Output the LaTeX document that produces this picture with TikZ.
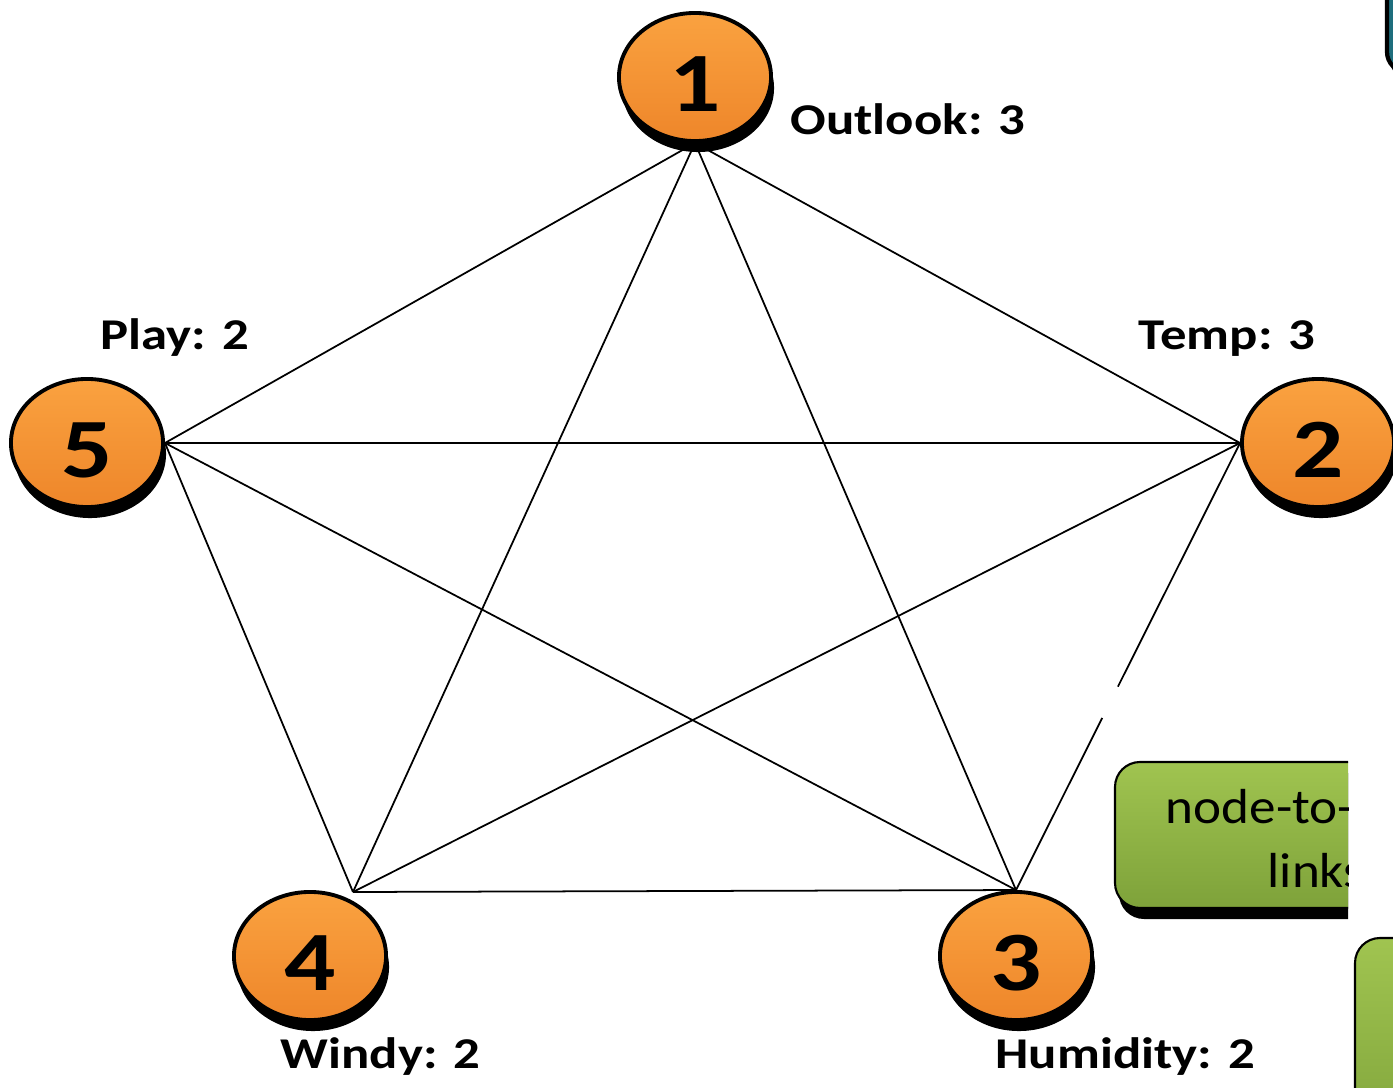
\documentclass[tikz,border=0pt]{standalone}
\usepackage{fontspec}
\setmainfont{Carlito}[FakeStretch=1.2]
\newfontfamily\boxfont{Carlito}[FakeStretch=1.08]
\usetikzlibrary{shapes.geometric,shadows,backgrounds,calc}

\definecolor{ballTop}{RGB}{250,162,64}
\definecolor{ballBot}{RGB}{238,134,42}
\definecolor{boxTop}{RGB}{160,196,80}
\definecolor{boxBot}{RGB}{126,162,58}
\definecolor{tealBox}{RGB}{30,110,125}

\tikzset{
    ball/.style={ellipse, minimum width=1.52cm, minimum height=1.28cm, inner sep=0pt,
        draw=black, line width=1.1pt, top color=ballTop, bottom color=ballBot,
        drop shadow={shadow xshift=0.3mm, shadow yshift=-1.1mm, fill=black, opacity=1},
        text height=0.68cm, text depth=0pt,
        font=\bfseries\fontsize{24}{28}\selectfont},
    attr/.style={anchor=base west, inner sep=0pt, font=\bfseries\fontsize{12.5}{15}\selectfont},
    link/.style={black, line width=0.5pt},
    greenbox/.style={rounded corners=0.25cm, draw=black, line width=0.6pt,
        top color=boxTop, bottom color=boxBot,
        drop shadow={shadow xshift=0.4mm, shadow yshift=-1.1mm, fill=black, opacity=1}},
    boxtext/.style={anchor=base west, inner sep=0pt, font=\boxfont\fontsize{14}{17}\selectfont}
}

\begin{document}
\begin{tikzpicture}[x=0.01cm, y=-0.01cm]
    % the frame
    \useasboundingbox (0,0) rectangle (1393,1088);
    \clip (0,0) rectangle (1393,1088);

    % the attributes
    \node[ball] (n1) at (695,77) {1};
    \node[ball] (n2) at (1318,443) {2};
    \node[ball] (n3) at (1016,956) {3};
    \node[ball] (n4) at (310,956) {4};
    \node[ball] (n5) at (87,443) {5};

    \node[attr] (l1) at (790,135) {Outlook: 3};
    \node[attr] (l2) at (1138,350) {Temp: 3};
    \node[attr] (l3) at (995,1068) {Humidity: 2};
    \node[attr] (l4) at (280,1068) {Windy: 2};
    \node[attr] (l5) at (100,350) {Play: 2};

    % link ends
    \coordinate (p1) at (n1.south);
    \coordinate (p2) at (n2.west);
    \coordinate (p3) at (n3.north);
    \coordinate (p4) at ($(n4.center)+(43,-64)$);
    \coordinate (p5) at (n5.east);
    \coordinate (gapA) at ($(p2)!0.545!(p3)$);
    \coordinate (gapB) at ($(p2)!0.615!(p3)$);

    % the links
    \begin{scope}[on background layer]
        \foreach \a/\b in {p1/p2, p1/p3, p1/p4, p1/p5, p2/p4, p2/p5, p3/p4, p3/p5, p4/p5} {
            \draw[link] (\a) -- (\b);
        };
        \draw[link] (p2) -- (gapA);
        \draw[link] (gapB) -- (p3);
    \end{scope}

    % the boxes at the edge
    \begin{scope}
        \clip (1100,740) rectangle (1348,935);
        \path[greenbox] (1115,762) rectangle (1440,908);
        \node[boxtext] (t1) at (1165,823) {node-to-};
        \node[boxtext] (t2) at (1267,887) {links};
    \end{scope}
    \path[greenbox] (1355,938) rectangle (1460,1160);
    \path[rounded corners=0.2cm, draw=black, line width=1.2pt, fill=tealBox,
        drop shadow={shadow xshift=0.3mm, shadow yshift=-0.8mm, fill=black, opacity=1}]
        (1387,-40) rectangle (1460,72);
\end{tikzpicture}
\end{document}
